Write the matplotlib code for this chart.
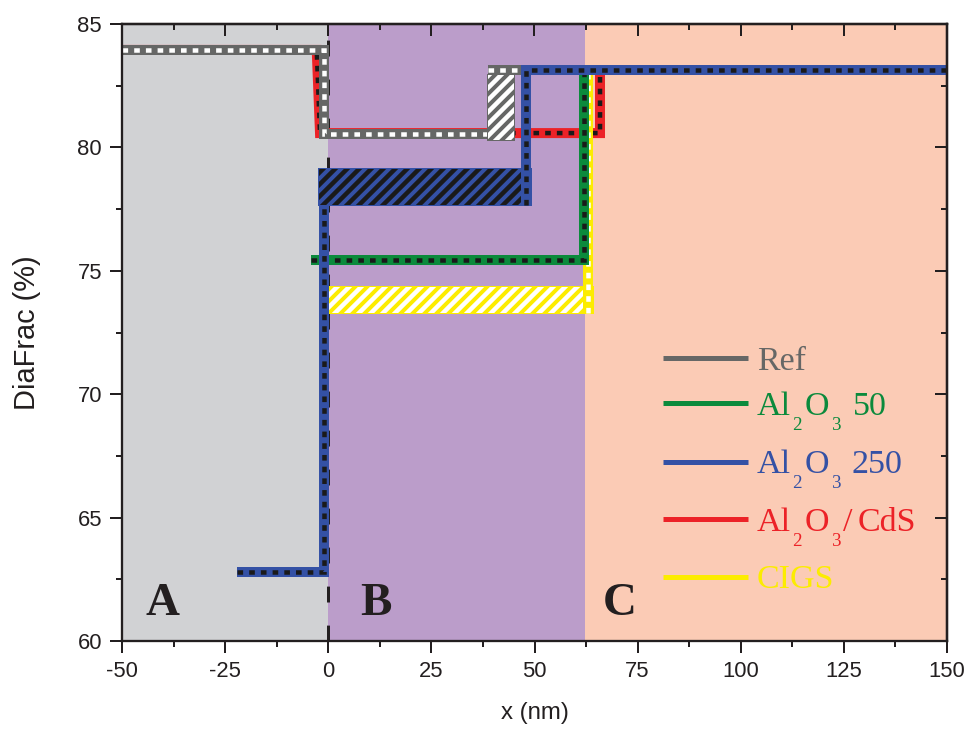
import matplotlib
matplotlib.use("Agg")
import matplotlib.pyplot as plt
from matplotlib.patches import Rectangle
from matplotlib.ticker import MultipleLocator
import numpy as np

# ---------------- data ----------------
region_names = ["A", "B", "C"]
region_bounds = [-50.0, 0.0, 62.3, 150.0]
region_colors = ["#d1d2d4", "#bb9dca", "#fbcbb5"]
region_label_x = [-40.2, 11.6, 70.7]
region_label_y = 61.05

series_names = ["Ref", "Al2O3 50", "Al2O3 250", "Al2O3/CdS", "CIGS"]
series_colors = ["#666766", "#0b8a3c", "#3451a5", "#ec2227", "#fcec00"]
series_dots = ["white", "#1a1a1a", "#1a1a1a", "#1a1a1a", "white"]

ref_x = [-50.0, -1.1, -1.1, 38.7, np.nan, 38.7, 48.0]
ref_y = [83.95, 83.95, 80.54, 80.54, np.nan, 83.15, 83.15]
ref_band_x = [38.7, 45.0]
ref_band_y = [80.30, 82.95]

al50_x = [-4.2, 61.9, 61.9]
al50_y = [75.42, 75.42, 83.15]

al250_x = [-22.2, -1.0, -1.0, np.nan, 48.06, 48.06, 150.0]
al250_y = [62.78, 62.78, 77.67, np.nan, 77.67, 83.15, 83.15]
al250_band_x = [-2.24, 49.15]
al250_band_y = [77.67, 79.12]

cds_x = [-50.0, -2.8, -2.0, 65.88, 65.88]
cds_y = [83.95, 83.95, 80.58, 80.58, 83.15]

cigs_x = [62.97, 62.97]
cigs_y = [73.29, 83.15]
cigs_band_x = [0.18, 64.2]
cigs_band_y = [73.29, 74.34]

x_ticks_major, x_ticks_minor = 25, 12.5
y_ticks_major, y_ticks_minor = 5, 2.5

# legend labels split into (text, kind) runs; "s" marks a subscript
legend_runs = [
    [("Ref", "n")],
    [("Al", "n"), ("2", "s"), ("O", "n"), ("3", "s"), ("50", "n")],
    [("Al", "n"), ("2", "s"), ("O", "n"), ("3", "s"), ("250", "n")],
    [("Al", "n"), ("2", "s"), ("O", "n"), ("3", "s"), ("/", "n"), ("CdS", "n")],
    [("CIGS", "n")],
]
# left edge (px) of each run
legend_run_px = [
    [757],
    [757, 792, 805, 832, 853],
    [757, 792, 805, 832, 852],
    [757, 792, 805, 832, 843, 858],
    [757],
]

# ---------------- style ----------------
DPI = 72
INK = "#231f20"
HATCH_LW = 4.5
plt.rcParams["font.family"] = ["Liberation Sans", "DejaVu Sans"]
plt.rcParams["axes.unicode_minus"] = False
plt.rcParams["hatch.linewidth"] = HATCH_LW

W, H = 969, 733
fig = plt.figure(figsize=(W / DPI, H / DPI), dpi=DPI)
L, R, T, B = 122, 947, 24, 641
ax = fig.add_axes([L / W, 1 - B / H, (R - L) / W, (B - T) / H])
ax.set_xlim(region_bounds[0], region_bounds[-1])
ax.set_ylim(60, 85)

# shaded regions and their letters
for i, name in enumerate(region_names):
    ax.axvspan(region_bounds[i], region_bounds[i + 1], color=region_colors[i],
               lw=0, zorder=0.5)
    ax.text(region_label_x[i], region_label_y, name, ha="center", va="baseline",
            fontsize=47, fontweight="bold", family="Liberation Serif",
            color=INK, zorder=1)

# interface marker at x = 0
ax.plot([0, 0], [60, 85], color=INK, lw=3, ls=(0, (5.3, 7.7)),
        dash_capstyle="butt", zorder=1)

LW = 10


def draw_line(x, y, color, dot, z):
    ax.plot(x, y, color=color, lw=LW, solid_capstyle="butt",
            solid_joinstyle="miter", zorder=z)
    ax.plot(x, y, color=dot, lw=4.5, ls=(0, (1.25, 1.35)), dash_capstyle="butt",
            dash_joinstyle="miter", zorder=z + 0.05)


def draw_band(bx, by, color, hatch_color, z):
    xy = (bx[0], by[0])
    w, h = bx[1] - bx[0], by[1] - by[0]
    ax.add_patch(Rectangle(xy, w, h, facecolor=color, edgecolor=color,
                           lw=2, zorder=z))
    hp = Rectangle(xy, w, h, fill=False, edgecolor=hatch_color,
                   hatch="//", lw=0, zorder=z + 0.01)
    if hasattr(hp, "set_hatch_linewidth"):
        hp.set_hatch_linewidth(HATCH_LW)
    ax.add_patch(hp)


# Al2O3/CdS
draw_line(cds_x, cds_y, series_colors[3], series_dots[3], 2)
# Ref
draw_line(ref_x, ref_y, series_colors[0], series_dots[0], 3)
draw_band(ref_band_x, ref_band_y, series_colors[0], "white", 3.5)
# CIGS
draw_band(cigs_band_x, cigs_band_y, series_colors[4], "white", 4)
draw_line(cigs_x, cigs_y, series_colors[4], series_dots[4], 4.5)
# Al2O3 50
draw_line(al50_x, al50_y, series_colors[1], series_dots[1], 5)
# Al2O3 250
draw_band(al250_band_x, al250_band_y, series_colors[2], "#1a1a1a", 6)
draw_line(al250_x, al250_y, series_colors[2], series_dots[2], 6.5)

# legend
leg_x0, leg_x1 = (663 - L) / (R - L), (748 - L) / (R - L)
leg_rows_px = [358.3, 403.3, 461.7, 519.3, 576.7]
for runs, xs, col, py in zip(legend_runs, legend_run_px, series_colors, leg_rows_px):
    yf = (B - py) / (B - T)
    ax.plot([leg_x0, leg_x1], [yf, yf], transform=ax.transAxes, color=col,
            lw=5, solid_capstyle="butt", zorder=8)
    base = py + 11.7
    for (txt, kind), px in zip(runs, xs):
        sub = kind == "s"
        ax.text((px - L) / (R - L), (B - (base + (15 if sub else 0))) / (B - T),
                txt, transform=ax.transAxes, ha="left", va="baseline",
                fontsize=19 if sub else 34, family="Liberation Serif",
                color=col, zorder=8)

# axes frame and ticks
for sp in ax.spines.values():
    sp.set_linewidth(2.3)
    sp.set_color(INK)
    sp.set_zorder(10)
ax.xaxis.set_major_locator(MultipleLocator(x_ticks_major))
ax.xaxis.set_minor_locator(MultipleLocator(x_ticks_minor))
ax.yaxis.set_major_locator(MultipleLocator(y_ticks_major))
ax.yaxis.set_minor_locator(MultipleLocator(y_ticks_minor))
ax.tick_params(which="both", direction="out", width=2, color=INK,
               labelsize=22, labelcolor=INK, pad=8)
ax.tick_params(which="major", length=12)
ax.tick_params(which="minor", length=6)

secx = ax.secondary_xaxis("top")
secx.xaxis.set_major_locator(MultipleLocator(x_ticks_major))
secx.xaxis.set_minor_locator(MultipleLocator(x_ticks_minor))
secx.tick_params(axis="x", which="both", direction="in", width=2, color=INK,
                 labeltop=False, top=True)
secx.tick_params(axis="x", which="major", length=12)
secx.tick_params(axis="x", which="minor", length=6)
secx.spines["top"].set_linewidth(2.3)
secx.spines["top"].set_color(INK)
secx.set_zorder(20)

secy = ax.secondary_yaxis("right")
secy.yaxis.set_major_locator(MultipleLocator(y_ticks_major))
secy.yaxis.set_minor_locator(MultipleLocator(y_ticks_minor))
secy.tick_params(axis="y", which="both", direction="in", width=2, color=INK,
                 labelright=False, right=True)
secy.tick_params(axis="y", which="major", length=12)
secy.tick_params(axis="y", which="minor", length=6)
secy.spines["right"].set_linewidth(2.3)
secy.spines["right"].set_color(INK)
secy.set_zorder(20)

ax.set_xlabel("x (nm)", fontsize=24, color=INK)
ax.xaxis.set_label_coords(0.5, (B - 702) / (B - T))
ax.set_ylabel("DiaFrac (%)", fontsize=29, color=INK)
ax.yaxis.set_label_coords((41 - L) / (R - L), 0.5)

fig.savefig("out.png", dpi=DPI)
